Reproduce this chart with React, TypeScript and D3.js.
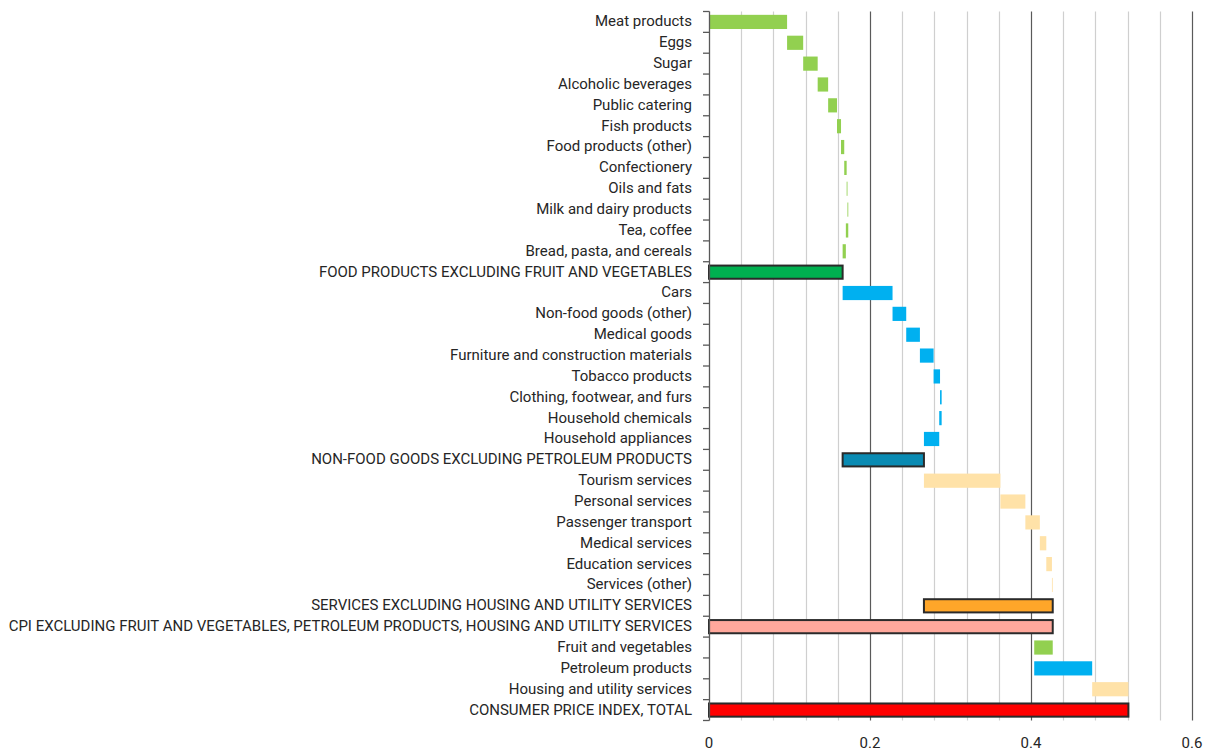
import React from "react";
import * as d3 from "d3";

// Contributions to annual inflation, percentage points (waterfall)
const foodItems = [
  "Meat products",
  "Eggs",
  "Sugar",
  "Alcoholic beverages",
  "Public catering",
  "Fish products",
  "Food products (other)",
  "Confectionery",
  "Oils and fats",
  "Milk and dairy products",
  "Tea, coffee",
  "Bread, pasta, and cereals",
];
const foodValues = [0.097, 0.02, 0.018, 0.013, 0.011, 0.005, 0.004, 0.003, 0.001, 0.001, -0.003, -0.004];
const foodTotalLabel = "FOOD PRODUCTS EXCLUDING FRUIT AND VEGETABLES";

const nonFoodItems = [
  "Cars",
  "Non-food goods (other)",
  "Medical goods",
  "Furniture and construction materials",
  "Tobacco products",
  "Clothing, footwear, and furs",
  "Household chemicals",
  "Household appliances",
];
const nonFoodValues = [0.062, 0.017, 0.017, 0.017, 0.008, 0.002, -0.003, -0.019];
const nonFoodTotalLabel = "NON-FOOD GOODS EXCLUDING PETROLEUM PRODUCTS";

const serviceItems = [
  "Tourism services",
  "Personal services",
  "Passenger transport",
  "Medical services",
  "Education services",
  "Services (other)",
];
const serviceValues = [0.095, 0.031, 0.018, 0.008, 0.007, 0.001];
const servicesTotalLabel = "SERVICES EXCLUDING HOUSING AND UTILITY SERVICES";

const coreLabel = "CPI EXCLUDING FRUIT AND VEGETABLES, PETROLEUM PRODUCTS, HOUSING AND UTILITY SERVICES";

const volatileItems = ["Fruit and vegetables", "Petroleum products", "Housing and utility services"];
const volatileValues = [-0.023, 0.072, 0.045];
const volatileKinds = ["food", "goods", "services"];

const totalLabel = "CONSUMER PRICE INDEX, TOTAL";

const xTicks = [0, 0.2, 0.4, 0.6];

const colors: Record<string, string> = {
  food: "#92D050",
  foodTotal: "#00B050",
  goods: "#00B0F0",
  goodsTotal: "#0A8BB3",
  services: "#FFE2A8",
  servicesTotal: "#FFA629",
  core: "#FFA89C",
  total: "#FF0000",
};

type Row = { label: string; x0: number; x1: number; kind: string; boxed: boolean };

function buildRows(): Row[] {
  const rows: Row[] = [];
  let cum = 0;
  const group = (labels: string[], values: number[], kind: string, totalLabelText: string) => {
    const start = cum;
    labels.forEach((l, i) => {
      rows.push({ label: l, x0: cum, x1: cum + values[i], kind, boxed: false });
      cum += values[i];
    });
    rows.push({ label: totalLabelText, x0: start, x1: cum, kind: kind + "Total", boxed: true });
  };
  group(foodItems, foodValues, "food", foodTotalLabel);
  group(nonFoodItems, nonFoodValues, "goods", nonFoodTotalLabel);
  group(serviceItems, serviceValues, "services", servicesTotalLabel);
  rows.push({ label: coreLabel, x0: 0, x1: cum, kind: "core", boxed: true });
  volatileItems.forEach((l, i) => {
    rows.push({ label: l, x0: cum, x1: cum + volatileValues[i], kind: volatileKinds[i], boxed: false });
    cum += volatileValues[i];
  });
  rows.push({ label: totalLabel, x0: 0, x1: cum, kind: "total", boxed: true });
  return rows;
}

export default function App() {
  const width = 1212;
  const height = 754;
  const rows = buildRows();

  const x = d3.scaleLinear().domain([0, 0.6]).range([709, 1192]);
  const y = d3
    .scaleBand<string>()
    .domain(rows.map((r) => r.label))
    .range([11.5, 720.5])
    .paddingInner(0.32)
    .paddingOuter(0.16);

  const step = y.step();
  const top = 11.5;
  const bottom = 720.5;
  const gridVals = d3.range(1, 16).map((i) => +(i * 0.04).toFixed(2));
  const boundaries = d3.range(0, rows.length + 1).map((i) => top + i * step);
  const font = "Roboto, 'Open Sans', sans-serif";

  return (
    <svg
      width={width}
      height={height}
      style={{ position: "absolute", left: 0, top: 0, background: "#fff" }}
      fontFamily={font}
    >
      {/* vertical gridlines */}
      {gridVals.map((v) => {
        const major = Math.abs(v / 0.2 - Math.round(v / 0.2)) < 1e-6;
        return (
          <line
            key={v}
            x1={Math.round(x(v)) + 0.5}
            x2={Math.round(x(v)) + 0.5}
            y1={top}
            y2={bottom}
            stroke={major ? "#5a5a5a" : "#cfcfcf"}
            strokeWidth={1.2}
          />
        );
      })}

      {/* bars */}
      {rows.map((r) => {
        const a = x(Math.min(r.x0, r.x1));
        const b = x(Math.max(r.x0, r.x1));
        const yy = y(r.label)!;
        const h = y.bandwidth();
        return (
          <rect
            key={r.label}
            x={a}
            y={r.boxed ? yy + 0.5 : yy}
            width={Math.max(b - a, 0.6)}
            height={r.boxed ? h - 1 : h}
            fill={colors[r.kind]}
            stroke={r.boxed ? "#2a2a2a" : "none"}
            strokeWidth={r.boxed ? 2 : 0}
          />
        );
      })}

      {/* category axis */}
      <line x1={709.5} x2={709.5} y1={top} y2={bottom} stroke="#595959" strokeWidth={1.3} />
      {boundaries.map((b, i) => (
        <line key={i} x1={703} x2={709.5} y1={b} y2={b} stroke="#595959" strokeWidth={1.3} />
      ))}
      {rows.map((r) => (
        <text
          key={"l" + r.label}
          x={692}
          y={y(r.label)! + y.bandwidth() / 2 - 0.8}
          dy="0.35em"
          textAnchor="end"
          fontSize={15}
          fill="#262626"
        >
          {r.label}
        </text>
      ))}

      {/* value axis labels */}
      {xTicks.map((t) => (
        <text key={t} x={x(t)} y={743} dy="0.35em" textAnchor="middle" fontSize={15} fill="#262626">
          {t === 0 ? "0" : t.toFixed(1)}
        </text>
      ))}
    </svg>
  );
}
